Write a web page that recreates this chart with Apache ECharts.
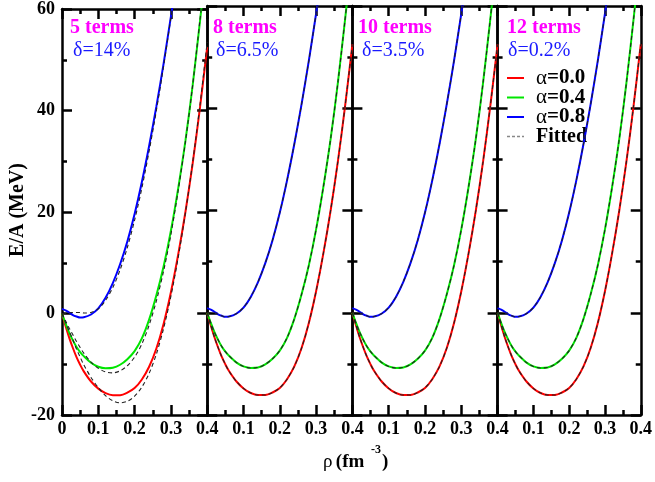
<!DOCTYPE html>
<html>
<head>
<meta charset="utf-8">
<script src="https://cdn.jsdelivr.net/npm/echarts@6/dist/echarts.min.js"></script>
<style>html,body{margin:0;padding:0;background:#fff}#c{width:655px;height:482px}</style>
</head>
<body>
<div id="c"></div>
<script>
// density grid (fm^-3)
const rho = [0,0.01,0.02,0.03,0.04,0.05,0.06,0.08,0.10,0.12,0.14,0.16,0.18,0.20,0.22,0.24,0.26,0.28,0.30,0.32,0.34,0.36,0.38,0.40];
// exact E/A (MeV)
const red   = [0,-2.5,-4.8,-6.8,-8.6,-10.1,-11.4,-13.4,-14.8,-15.7,-16.1,-16.1,-15.6,-14.7,-13.0,-10.5,-6.9,-2.0,4.2,11.6,20.0,29.6,40.5,52.5];
const green = [0,-2.0,-3.8,-5.3,-6.6,-7.6,-8.4,-9.7,-10.5,-10.8,-10.7,-10.1,-9.0,-7.4,-4.9,-1.2,3.6,9.3,16.3,24.6,34.0,45.0,57.5,70.5];
const blue  = [0.9,0.6,0.2,-0.3,-0.6,-0.8,-0.75,-0.2,1.0,3.1,6.0,9.7,14.2,19.6,25.9,33.0,40.8,49.3,58.5,68.0,78.0,89.0,100.5,112.5];
// fitted, 5 terms
const fitRed5   = [0,-1.8,-3.5,-5.2,-7.0,-8.6,-10.1,-12.6,-14.6,-16.2,-17.2,-17.6,-17.3,-16.3,-14.5,-11.8,-8.0,-2.9,3.4,11.0,19.8,29.8,41.0,53.5];
const fitGreen5 = [0,-1.5,-2.9,-4.2,-5.5,-6.7,-7.8,-9.6,-10.8,-11.5,-11.7,-11.3,-10.3,-8.6,-6.0,-2.3,2.5,8.4,15.6,24.2,33.8,45.0,57.8,71.0];
const fitBlue5  = [0,0,0.1,0.2,0.2,0.2,0.1,0.2,0.9,2.6,5.1,8.6,13.0,18.4,24.7,32.0,40.0,48.8,58.3,68.0,78.0,89.0,100.5,112.5];
// fitted, 8/10/12 terms
const fitRedN   = [0,-2.5,-4.8,-6.8,-8.6,-10.1,-11.4,-13.4,-14.8,-15.7,-16.1,-16.1,-15.6,-14.7,-13.0,-10.5,-6.9,-2.0,4.2,11.6,20.0,29.6,40.5,52.5];
const fitGreenN = [0,-2.0,-3.8,-5.3,-6.6,-7.6,-8.4,-9.7,-10.5,-10.8,-10.7,-10.1,-9.0,-7.4,-4.9,-1.2,3.6,9.3,16.3,24.6,34.0,45.0,57.5,70.5];
const fitBlueN  = [0,0,0,-0.3,-0.6,-0.8,-0.75,-0.2,1.0,3.1,6.0,9.7,14.2,19.6,25.9,33.0,40.8,49.3,58.5,68.0,78.0,89.0,100.5,112.5];

const termLabels  = ['5 terms','8 terms','10 terms','12 terms'];
const deltaLabels = ['δ=14%','δ=6.5%','δ=3.5%','δ=0.2%'];
const legendLabels = ['0.0','0.4','0.8'];
const xTicks = [0,0.1,0.2,0.3,0.4];
const yTicks = [-20,0,20,40,60];

const fitSets = [[fitRed5,fitGreen5,fitBlue5],[fitRedN,fitGreenN,fitBlueN],[fitRedN,fitGreenN,fitBlueN],[fitRedN,fitGreenN,fitBlueN]];
const exact = [red, green, blue];
const colors = ['#ff0000','#00e600','#0000ff'];

const FF = 'Liberation Serif';
const lefts = [62, 207.2, 352.4, 497.6];
const W = 145.2, TOP = 6, H = 409;

const pair = arr => rho.map((r,k)=>[r, arr[k]]);

const grid=[], xAxis=[], yAxis=[], series=[], graphic=[];
const axLine = {show:true, onZero:false, lineStyle:{color:'#000', width:2.5}};
const tick = {show:true, inside:true, length:10, lineStyle:{color:'#000', width:2.5}};
const minor = {show:true, splitNumber:2, length:5, lineStyle:{color:'#000', width:2.5}};
for (let i=0;i<4;i++){
  grid.push({left:lefts[i], top:TOP, width:W, height:H});
  ['bottom','top'].forEach(pos=>{
    xAxis.push({type:'value', gridIndex:i, position:pos, min:xTicks[0], max:xTicks[xTicks.length-1], interval:0.1,
      axisLine:axLine, axisTick:tick, minorTick:minor, splitLine:{show:false},
      axisLabel:{show:pos==='bottom', margin:5, fontFamily:FF, fontWeight:'bold', fontSize:18, color:'#000',
        formatter:v=>{ if (Math.abs(v)<1e-9) return i===0?'0':''; return (+v).toFixed(1);} }});
  });
  ['left','right'].forEach(pos=>{
    yAxis.push({type:'value', gridIndex:i, position:pos, min:yTicks[0], max:yTicks[yTicks.length-1], interval:20,
      axisLine:axLine, axisTick:tick, minorTick:minor, splitLine:{show:false},
      axisLabel:{show:(i===0 && pos==='left'), margin:7, fontFamily:FF, fontWeight:'bold', fontSize:18, color:'#000'}});
  });
  exact.forEach((arr,c)=>{
    series.push({type:'line', xAxisIndex:2*i, yAxisIndex:2*i, data:pair(arr), showSymbol:false, smooth:0.3,
      lineStyle:{color:colors[c], width:2}, clip:true, silent:true});
  });
  fitSets[i].forEach(arr=>{
    series.push({type:'line', xAxisIndex:2*i, yAxisIndex:2*i, data:pair(arr), showSymbol:false, smooth:0.3,
      lineStyle:{color:'#222', width:1.1, type:[4,3]}, clip:true, silent:true, z:3});
  });
}

const termX = [70, 213, 358, 507];
const deltaX = [73, 216, 362, 508];
for (let i=0;i<4;i++){
  graphic.push({type:'text', x:termX[i], y:28, style:{text:termLabels[i], fill:'#ff00ff', fontFamily:FF, fontWeight:'bold', fontSize:20, verticalAlign:'middle', align:'left'}});
  graphic.push({type:'text', x:deltaX[i], y:51, style:{text:deltaLabels[i], fill:'#1a1aff', fontFamily:FF, fontSize:20, verticalAlign:'middle', align:'left'}});
}
// legend
const rowsY = [78, 97.5, 117, 136.5];
for (let k=0;k<3;k++){
  graphic.push({type:'line', shape:{x1:507, y1:rowsY[k], x2:524, y2:rowsY[k]}, style:{stroke:colors[k], lineWidth:2}});
  graphic.push({type:'text', x:536, y:rowsY[k], style:{text:'{a|α}{b|='+legendLabels[k]+'}', verticalAlign:'middle', align:'left',
    rich:{a:{fontFamily:FF, fontSize:21, fill:'#000', color:'#000'}, b:{fontFamily:FF, fontSize:21, fontWeight:'bold', fill:'#000', color:'#000'}}}});
}
graphic.push({type:'line', shape:{x1:507, y1:rowsY[3], x2:524, y2:rowsY[3]}, style:{stroke:'#888', lineWidth:1.5, lineDash:[3,2]}});
graphic.push({type:'text', x:536, y:rowsY[3], style:{text:'Fitted', fill:'#000', fontFamily:FF, fontWeight:'bold', fontSize:20, verticalAlign:'middle', align:'left'}});
// axis titles
graphic.push({type:'text', x:18, y:210, rotation:Math.PI/2, style:{text:'E/A (MeV)', fill:'#000', fontFamily:FF, fontWeight:'bold', fontSize:20, verticalAlign:'middle', align:'center'}});
graphic.push({type:'text', x:323, y:462, style:{text:'{a|ρ} {b|(fm}', verticalAlign:'middle', align:'left',
  rich:{a:{fontFamily:FF, fontSize:19, fill:'#000', color:'#000'}, b:{fontFamily:FF, fontSize:19, fontWeight:'bold', fill:'#000', color:'#000'}}}});
graphic.push({type:'text', x:371, y:450, style:{text:'-3', fill:'#000', fontFamily:FF, fontWeight:'bold', fontSize:12, verticalAlign:'middle', align:'left'}});
graphic.push({type:'text', x:382, y:462, style:{text:')', fill:'#000', fontFamily:FF, fontWeight:'bold', fontSize:19, verticalAlign:'middle', align:'left'}});

const chart = echarts.init(document.getElementById('c'), null, {renderer:'canvas'});
chart.setOption({animation:false, backgroundColor:'#fff', grid, xAxis, yAxis, series, graphic});
</script>
</body>
</html>
